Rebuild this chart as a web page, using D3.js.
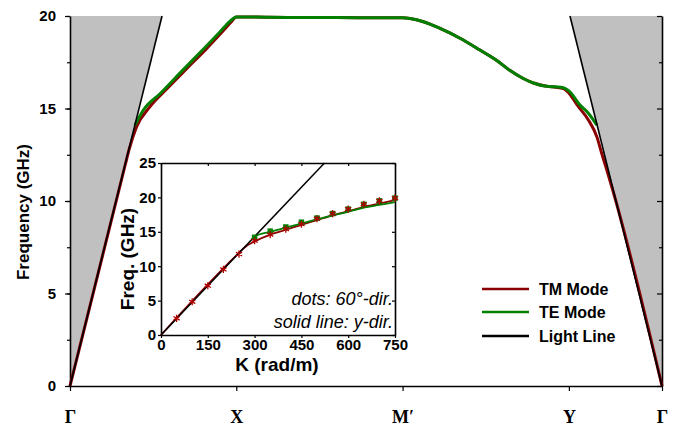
<!DOCTYPE html>
<html>
<head>
<meta charset="utf-8">
<script src="https://cdn.jsdelivr.net/npm/d3@7"></script>
<style>
  body { margin: 0; background: #fff; }
  text { font-family: Arial, "Liberation Sans", sans-serif; }
</style>
</head>
<body>
<svg id="chart" width="677" height="427"></svg>
<script>
// path positions (rad/m along the k-path) and labels
const pathTicks = [0, 750, 1500, 2250, 2670];
const pathLabels = ['Γ', 'X', 'M′', 'Y', 'Γ'];
const freqTicks = [0, 5, 10, 15, 20];

// light cones (k, GHz)
const lightLeft = [[0, 0], [415, 20]];
const lightRight = [[2670, 0], [2255, 20]];

// TM mode along Γ-X-M'-Y-Γ
const tmK = [0, 250, 267, 300, 361, 436, 526, 617, 691, 729, 750, 900, 1100, 1300, 1500, 1534, 1594, 1669, 1759, 1849, 1925, 1985, 2040, 2090, 2150, 2190, 2225, 2245, 2293, 2338, 2376, 2398, 2421, 2450, 2670];
const tmF = [0, 12.0, 12.8, 14.0, 15.1, 16.05, 17.15, 18.25, 19.2, 19.7, 19.95, 19.93, 19.92, 19.91, 19.9, 19.86, 19.69, 19.33, 18.8, 18.16, 17.6, 17.05, 16.65, 16.38, 16.2, 16.15, 16.08, 15.9, 15.1, 14.38, 13.48, 12.58, 11.68, 10.5, 0];

// TE mode
const teK = [293, 331, 406, 511, 601, 677, 720, 750, 900, 1100, 1300, 1500, 1534, 1594, 1669, 1759, 1849, 1925, 1985, 2040, 2090, 2150, 2190, 2225, 2250, 2300, 2338, 2376];
const teF = [14.1, 14.92, 15.8, 17.1, 18.2, 19.15, 19.7, 19.95, 19.93, 19.92, 19.91, 19.9, 19.86, 19.69, 19.33, 18.8, 18.16, 17.6, 17.05, 16.65, 16.38, 16.2, 16.17, 16.12, 15.95, 15.19, 14.74, 14.1];

// inset: dots (60 deg direction)
const dotK = [0, 50, 100, 150, 200, 250, 300, 350, 400, 450, 500, 550, 600, 650, 700, 750];
const dotTM = [0, 2.42, 4.83, 7.16, 9.53, 11.76, 13.7, 14.6, 15.4, 16.1, 16.9, 17.65, 18.3, 19.0, 19.5, 19.9];
const dotTeK = [300, 350, 400, 450, 500, 550, 600, 650, 700, 750];
const dotTE = [14.2, 15.1, 15.7, 16.4, 17.0, 17.65, 18.3, 19.0, 19.5, 19.9];

// inset: solid lines (y direction)
const lineTmK = [0, 250, 270, 300, 350, 400, 450, 500, 550, 600, 650, 700, 750];
const lineTmF = [0, 11.94, 12.8, 13.6, 14.6, 15.3, 16.0, 16.7, 17.4, 18.0, 18.6, 19.1, 19.6];
const lineTeK = [290, 300, 350, 400, 450, 500, 550, 600, 650, 700, 750];
const lineTeF = [13.85, 14.3, 15.0, 15.6, 16.2, 16.8, 17.4, 17.9, 18.5, 18.9, 19.3];
const insetLight = [[0, 0], [524, 25]];
const insetXTicks = [0, 150, 300, 450, 600, 750];
const insetYTicks = [0, 5, 10, 15, 20, 25];

const legendItems = ['TM Mode', 'TE Mode', 'Light Line'];
const tmColor = '#8b0000', teColor = '#008000';

const svg = d3.select('#chart');

// main scales
var x = d3.scaleLinear().domain([0, 2670]).range([70, 662]);
var y = d3.scaleLinear().domain([0, 20]).range([386, 16]);

// grey light cones
var area = d3.line().x(d => x(d[0])).y(d => y(d[1]));
svg.append('path')
  .attr('d', area([[0, 0], [0, 20], lightLeft[1]]) + 'Z')
  .attr('fill', '#c0c0c0');
svg.append('path')
  .attr('d', area([[2670, 0], [2670, 20], lightRight[1]]) + 'Z')
  .attr('fill', '#c0c0c0');

// axes
var yMinor = d3.range(0, 20.1, 2.5);
svg.append('g').attr('transform', 'translate(70,0)')
  .call(d3.axisLeft(y).tickValues(yMinor).tickSize(3).tickFormat(''))
  .call(g => g.select('.domain').remove());
svg.append('g').attr('transform', 'translate(70,0)')
  .call(d3.axisLeft(y).tickValues(freqTicks).tickSize(5).tickSizeOuter(0).tickPadding(9))
  .call(g => g.selectAll('text').attr('font-size', 15).attr('font-weight', 'bold').attr('fill', '#000'));
svg.append('g').attr('transform', 'translate(662,0)')
  .call(d3.axisLeft(y).tickValues(yMinor).tickSize(-3).tickSizeOuter(0).tickFormat(''))
  .call(g => g.selectAll('.tick line').attr('x2', d => freqTicks.includes(d) ? -5 : -3));
svg.append('g').attr('transform', 'translate(0,386)')
  .call(d3.axisBottom(x).tickValues(pathTicks).tickSize(5).tickSizeOuter(0).tickFormat((d, i) => pathLabels[i]).tickPadding(19))
  .call(g => g.selectAll('text').attr('font-size', 18).attr('font-weight', 'bold').attr('fill', '#000')
    .style('font-family', '"Liberation Serif", "Times New Roman", serif'));

svg.append('text')
  .attr('transform', 'translate(29,212) rotate(-90)')
  .attr('text-anchor', 'middle')
  .attr('font-size', 17).attr('font-weight', 'bold')
  .text('Frequency (GHz)');

// mode curves
var curve = d3.line().x(d => x(d[0])).y(d => y(d[1])).curve(d3.curveMonotoneX);
svg.append('path').datum(tmK.map((k, i) => [k, tmF[i]]))
  .attr('d', curve).attr('fill', 'none').attr('stroke', tmColor).attr('stroke-width', 3);
svg.append('path').datum(teK.map((k, i) => [k, teF[i]]))
  .attr('d', curve).attr('fill', 'none').attr('stroke', teColor).attr('stroke-width', 3);
svg.append('path').attr('d', area(lightLeft)).attr('stroke', '#000').attr('stroke-width', 1.6);
svg.append('path').attr('d', area(lightRight)).attr('stroke', '#000').attr('stroke-width', 1.6);

// legend
var legend = svg.append('g');
legendItems.forEach(function(name, i) {
  var ly = [289, 312, 336][i];
  legend.append('line').attr('x1', 482).attr('x2', 529).attr('y1', ly).attr('y2', ly)
    .attr('stroke', [tmColor, teColor, '#000'][i]).attr('stroke-width', 2.5);
  legend.append('text').attr('x', 539).attr('y', ly + 5.5)
    .attr('font-size', 16).attr('font-weight', 'bold').text(name);
});

// ---- inset ----
var ix = d3.scaleLinear().domain([0, 750]).range([161, 395]);
var iy = d3.scaleLinear().domain([0, 25]).range([335, 163]);

svg.append('rect').attr('x', 161).attr('y', 163).attr('width', 234).attr('height', 172)
  .attr('fill', '#fff');

svg.append('g').attr('transform', 'translate(161,0)')
  .call(d3.axisLeft(iy).tickValues(insetYTicks).tickSize(3).tickSizeOuter(0).tickPadding(2))
  .call(g => g.selectAll('text').attr('font-size', 15).attr('font-weight', 'bold').attr('fill', '#000'));
svg.append('g').attr('transform', 'translate(0,335)')
  .call(d3.axisBottom(ix).tickValues(insetXTicks).tickSize(3).tickSizeOuter(0).tickPadding(1))
  .call(g => g.selectAll('text').attr('font-size', 15).attr('font-weight', 'bold').attr('fill', '#000'));
svg.append('g').attr('transform', 'translate(0,163)')
  .call(d3.axisBottom(ix).tickValues(insetXTicks).tickSize(3).tickSizeOuter(0).tickFormat(''));
svg.append('g').attr('transform', 'translate(395,0)')
  .call(d3.axisLeft(iy).tickValues(insetYTicks).tickSize(-3).tickSizeOuter(0).tickFormat(''))
  .call(g => g.selectAll('.tick line').attr('x2', -3));

var iline = d3.line().x(d => ix(d[0])).y(d => iy(d[1]));
var icurve = d3.line().x(d => ix(d[0])).y(d => iy(d[1])).curve(d3.curveMonotoneX);
svg.append('path').datum(lineTmK.map((k, i) => [k, lineTmF[i]]))
  .attr('d', icurve).attr('fill', 'none').attr('stroke', tmColor).attr('stroke-width', 1.8);
svg.append('path').datum(lineTeK.map((k, i) => [k, lineTeF[i]]))
  .attr('d', icurve).attr('fill', 'none').attr('stroke', teColor).attr('stroke-width', 1.8);
svg.append('path').attr('d', iline(insetLight)).attr('stroke', '#000').attr('stroke-width', 1.5);

svg.append('g').selectAll('path').data(dotTeK.map((k, i) => [k, dotTE[i]])).join('path')
  .attr('transform', d => 'translate(' + ix(d[0]) + ',' + iy(d[1]) + ')')
  .attr('d', d3.symbol(d3.symbolSquare, 30)).attr('fill', teColor);
svg.append('g').selectAll('path').data(dotK.slice(1).map((k, i) => [k, dotTM[i + 1]])).join('path')
  .attr('transform', d => 'translate(' + ix(d[0]) + ',' + iy(d[1]) + ')')
  .attr('d', d3.symbol(d3.symbolAsterisk, 36)).attr('fill', 'none')
  .attr('stroke', '#b00000').attr('stroke-width', 1.3);

svg.append('text').attr('x', 393).attr('y', 305).attr('text-anchor', 'end')
  .attr('font-size', 18).attr('font-style', 'italic').text('dots: 60°-dir.');
svg.append('text').attr('x', 393).attr('y', 328).attr('text-anchor', 'end')
  .attr('font-size', 18).attr('font-style', 'italic').text('solid line: y-dir.');
svg.append('text').attr('x', 277).attr('y', 371).attr('text-anchor', 'middle')
  .attr('font-size', 19).attr('font-weight', 'bold').text('K (rad/m)');
svg.append('text')
  .attr('transform', 'translate(134,259) rotate(-90)')
  .attr('text-anchor', 'middle')
  .attr('font-size', 19).attr('font-weight', 'bold')
  .text('Freq. (GHz)');

svg.selectAll('.domain').attr('stroke', '#000').attr('stroke-width', 1.6);
svg.selectAll('.tick line').attr('stroke', '#000').attr('stroke-width', 1.2);
</script>
</body>
</html>
